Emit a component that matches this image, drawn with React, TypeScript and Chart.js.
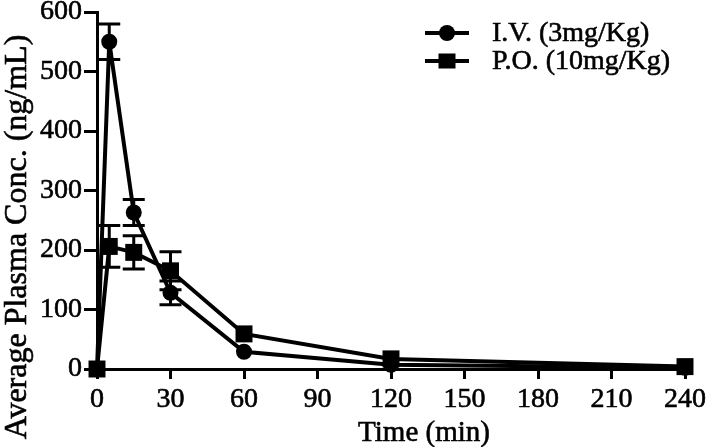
import React, { useEffect, useRef } from 'react';
import { Chart, registerables } from 'chart.js';

Chart.register(...registerables);

const timePoints = [0, 5, 15, 30, 60, 120, 240];
const ivMean = [0, 550, 263, 128, 29, 7, 2];
const ivErr = [0, 30, 22, 20, 0, 0, 0];
const poMean = [0, 206, 196, 165, 59, 17, 4];
const poErr = [0, 35, 28, 32, 0, 0, 0];
const seriesLabels = ['I.V. (3mg/Kg)', 'P.O. (10mg/Kg)'];
const xTickValues = [0, 30, 60, 90, 120, 150, 180, 210, 240];
const yTickValues = [0, 100, 200, 300, 400, 500, 600];
const xTitle = 'Time (min)';
const yTitle = 'Average Plasma Conc. (ng/mL)';

const FONT = "'Liberation Serif', 'Times New Roman', serif";
const errors = [ivErr, poErr];

const errorBarPlugin = {
  id: 'errorBars',
  afterDatasetsDraw(chart: any) {
    const ctx = chart.ctx;
    const xs = chart.scales.x;
    const ys = chart.scales.y;
    ctx.save();
    ctx.strokeStyle = '#000';
    ctx.lineWidth = 3;
    chart.data.datasets.forEach((ds: any, di: number) => {
      const err = errors[di];
      ds.data.forEach((p: any, i: number) => {
        const e = err[i];
        if (!e) return;
        const x = xs.getPixelForValue(p.x);
        const yTop = ys.getPixelForValue(p.y + e);
        const yBot = ys.getPixelForValue(p.y - e);
        const cap = 11;
        ctx.beginPath();
        ctx.moveTo(x, yTop);
        ctx.lineTo(x, yBot);
        ctx.moveTo(x - cap, yTop);
        ctx.lineTo(x + cap, yTop);
        ctx.moveTo(x - cap, yBot);
        ctx.lineTo(x + cap, yBot);
        ctx.stroke();
      });
    });
    ctx.restore();
  },
};

function heavyText(ctx: any, text: string, x: number, y: number) {
  ctx.fillText(text, x, y);
  ctx.lineWidth = 0.6;
  ctx.strokeStyle = '#000';
  ctx.strokeText(text, x, y);
}

const textPlugin = {
  id: 'customText',
  afterDraw(chart: any) {
    const ctx = chart.ctx;
    const area = chart.chartArea;
    ctx.save();
    // legend
    const x0 = area.left + 328;
    const y0 = area.top + 21;
    const rowH = 28;
    chart.data.datasets.forEach((ds: any, i: number) => {
      const y = y0 + i * rowH;
      ctx.strokeStyle = '#000';
      ctx.lineWidth = 4;
      ctx.beginPath();
      ctx.moveTo(x0, y);
      ctx.lineTo(x0 + 44, y);
      ctx.stroke();
      ctx.fillStyle = '#000';
      if (i === 0) {
        ctx.beginPath();
        ctx.arc(x0 + 22, y, 8, 0, Math.PI * 2);
        ctx.fill();
      } else {
        ctx.fillRect(x0 + 22 - 8.5, y - 7.5, 17, 15);
      }
      ctx.font = `28px ${FONT}`;
      ctx.textAlign = 'left';
      ctx.textBaseline = 'middle';
      heavyText(ctx, ds.label, x0 + 67, y + 1);
    });
    // x title
    ctx.fillStyle = '#000';
    ctx.font = `29px ${FONT}`;
    ctx.textAlign = 'center';
    ctx.textBaseline = 'middle';
    heavyText(ctx, xTitle, area.left + 327, 433);
    // y title
    ctx.save();
    ctx.translate(18, area.top + 225);
    ctx.rotate(-Math.PI / 2);
    ctx.font = `32px ${FONT}`;
    heavyText(ctx, yTitle, 0, 0);
    ctx.restore();
    ctx.restore();
  },
};

export default function App() {
  const canvasRef = useRef<HTMLCanvasElement | null>(null);

  useEffect(() => {
    document.body.style.margin = '0';
    const canvas = canvasRef.current;
    if (!canvas) return;
    const mk = (ys: number[]) => timePoints.map((t, i) => ({ x: t, y: ys[i] }));
    const tickFont = { family: FONT, size: 28 };
    const chart = new Chart(canvas, {
      type: 'line',
      data: {
        datasets: [
          {
            label: seriesLabels[0],
            data: mk(ivMean),
            borderColor: '#000',
            backgroundColor: '#000',
            borderWidth: 4,
            pointStyle: 'circle',
            pointRadius: 8,
            pointBackgroundColor: '#000',
            pointBorderWidth: 0,
            clip: false,
          },
          {
            label: seriesLabels[1],
            data: mk(poMean),
            borderColor: '#000',
            backgroundColor: '#000',
            borderWidth: 4,
            pointStyle: 'rect',
            pointRadius: 12,
            pointBackgroundColor: '#000',
            pointBorderWidth: 0,
            clip: false,
          },
        ],
      },
      options: {
        animation: false,
        responsive: true,
        maintainAspectRatio: false,
        layout: { padding: { top: 10, right: 0, left: 0, bottom: 0 } },
        plugins: { legend: { display: false }, tooltip: { enabled: false } },
        scales: {
          x: {
            type: 'linear',
            min: 0,
            max: 240,
            afterBuildTicks: (s: any) => {
              s.ticks = xTickValues.map((v) => ({ value: v }));
            },
            afterFit: (s: any) => {
              s.height = 78;
            },
            grid: {
              drawOnChartArea: false,
              drawTicks: true,
              tickLength: 10,
              tickWidth: 3,
              tickColor: '#000',
            },
            border: { display: true, width: 3, color: '#000' },
            ticks: {
              font: tickFont,
              color: '#000',
              padding: 4,
              maxRotation: 0,
              textStrokeColor: '#000',
              textStrokeWidth: 0.6,
            },
          },
          y: {
            type: 'linear',
            min: 0,
            max: 600,
            afterBuildTicks: (s: any) => {
              s.ticks = yTickValues.map((v) => ({ value: v }));
            },
            afterFit: (s: any) => {
              s.width = 97;
              s.paddingTop = 0;
            },
            grid: {
              drawOnChartArea: false,
              drawTicks: true,
              tickLength: 13,
              tickWidth: 3,
              tickColor: '#000',
            },
            border: { display: true, width: 3, color: '#000' },
            ticks: {
              font: tickFont,
              color: '#000',
              padding: 2,
              textStrokeColor: '#000',
              textStrokeWidth: 0.6,
            },
          },
        },
      },
      plugins: [errorBarPlugin, textPlugin],
    });
    return () => chart.destroy();
  }, []);

  return (
    <div style={{ position: 'relative', width: 710, height: 447 }}>
      <canvas ref={canvasRef} />
    </div>
  );
}
